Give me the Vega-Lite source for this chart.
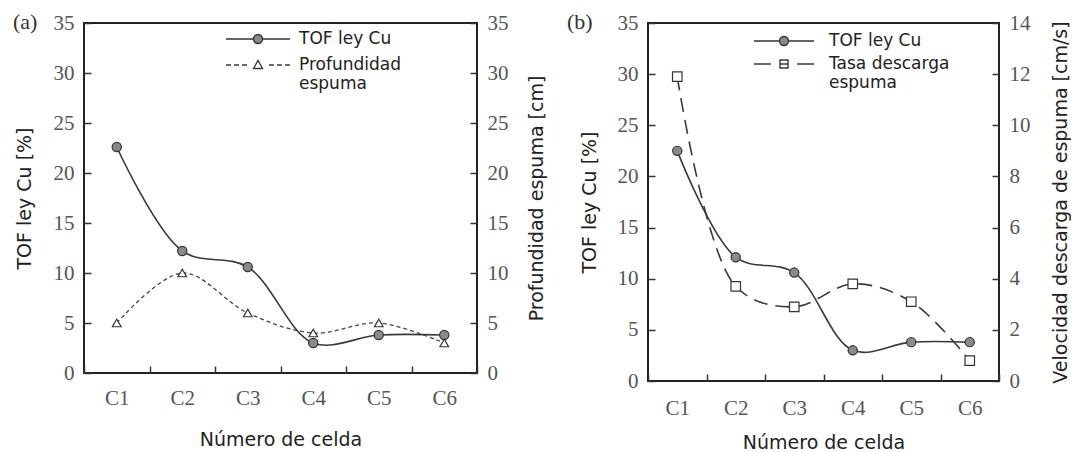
{
  "$schema": "https://vega.github.io/schema/vega-lite/v6.json",
  "background": "white",
  "padding": {"left": 12, "top": 10, "right": 0, "bottom": 0},
  "config": {
    "view": {"stroke": "#222", "strokeWidth": 2},
    "axis": {
      "grid": false, "domain": false, "tickSize": -7, "tickColor": "#333", "tickWidth": 1.5,
      "labelFont": "Liberation Serif", "labelFontSize": 21, "labelColor": "#555",
      "titleFont": "DejaVu Sans", "titleFontSize": 19, "titleFontWeight": "normal", "titleColor": "#222"
    },
    "legend": {
      "orient": "none", "title": null, "padding": 0,
      "labelFont": "DejaVu Sans", "labelFontSize": 17, "labelColor": "#222",
      "symbolSize": 400, "symbolStrokeWidth": 1.4, "symbolOpacity": 1
    },
    "title": {"font": "Liberation Serif", "fontSize": 22, "fontWeight": "normal", "color": "#333", "anchor": "start", "frame": "group"}
  },
  "datasets": {
    "a": [
      {"celda": "C1", "serie": "TOF ley Cu", "valor": 22.6},
      {"celda": "C2", "serie": "TOF ley Cu", "valor": 12.2},
      {"celda": "C3", "serie": "TOF ley Cu", "valor": 10.6},
      {"celda": "C4", "serie": "TOF ley Cu", "valor": 3.0},
      {"celda": "C5", "serie": "TOF ley Cu", "valor": 3.8},
      {"celda": "C6", "serie": "TOF ley Cu", "valor": 3.8},
      {"celda": "C1", "serie": "Profundidad espuma", "valor": 5.0},
      {"celda": "C2", "serie": "Profundidad espuma", "valor": 10.0},
      {"celda": "C3", "serie": "Profundidad espuma", "valor": 6.0},
      {"celda": "C4", "serie": "Profundidad espuma", "valor": 4.0},
      {"celda": "C5", "serie": "Profundidad espuma", "valor": 5.0},
      {"celda": "C6", "serie": "Profundidad espuma", "valor": 3.0}
    ],
    "b": [
      {"celda": "C1", "serie": "TOF ley Cu", "valor": 22.5},
      {"celda": "C2", "serie": "TOF ley Cu", "valor": 12.1},
      {"celda": "C3", "serie": "TOF ley Cu", "valor": 10.6},
      {"celda": "C4", "serie": "TOF ley Cu", "valor": 3.0},
      {"celda": "C5", "serie": "TOF ley Cu", "valor": 3.8},
      {"celda": "C6", "serie": "TOF ley Cu", "valor": 3.8},
      {"celda": "C1", "serie": "Tasa descarga espuma", "valor": 11.9},
      {"celda": "C2", "serie": "Tasa descarga espuma", "valor": 3.7},
      {"celda": "C3", "serie": "Tasa descarga espuma", "valor": 2.9},
      {"celda": "C4", "serie": "Tasa descarga espuma", "valor": 3.8},
      {"celda": "C5", "serie": "Tasa descarga espuma", "valor": 3.1},
      {"celda": "C6", "serie": "Tasa descarga espuma", "valor": 0.8}
    ]
  },
  "hconcat": [
    {
      "width": 393, "height": 350,
      "title": {"text": "(a)", "dx": -71, "dy": 32, "baseline": "middle", "offset": 0},
      "data": {"name": "a"},
      "encoding": {
        "x": {"field": "celda", "type": "nominal", "scale": {"type": "band", "paddingInner": 0, "paddingOuter": 0},
              "axis": {"title": "Número de celda", "labelAngle": 0, "tickBand": "extent", "labelPadding": 21, "titlePadding": 22}}
      },
      "layer": [
        {
          "transform": [{"filter": "datum.serie == 'TOF ley Cu'"}],
          "encoding": {
            "y": {"field": "valor", "type": "quantitative", "scale": {"domain": [0, 35], "nice": false},
                  "axis": {"title": "TOF ley Cu [%]", "values": [0,5,10,15,20,25,30,35], "labelPadding": 17, "titlePadding": 19}}
          },
          "layer": [
            {"mark": {"type": "line", "interpolate": "catmull-rom", "color": "#3a3a3a", "strokeWidth": 1.6}},
            {"mark": {"type": "point", "shape": "circle", "filled": true, "fill": "#8a8a8a", "stroke": "#333", "strokeWidth": 1.2, "size": 85, "opacity": 1}}
          ]
        },
        {
          "transform": [{"filter": "datum.serie == 'Profundidad espuma'"}],
          "encoding": {
            "y": {"field": "valor", "type": "quantitative", "scale": {"domain": [0, 35], "nice": false},
                  "axis": {"orient": "right", "title": "Profundidad espuma [cm]", "titleAngle": 270, "titleBaseline": "top", "values": [0,5,10,15,20,25,30,35], "labelPadding": 17, "titlePadding": 19}}
          },
          "layer": [
            {"mark": {"type": "line", "interpolate": "catmull-rom", "color": "#444", "strokeWidth": 1.3, "strokeDash": [4, 3]}},
            {"mark": {"type": "point", "shape": "triangle-up", "filled": false, "fill": "white", "stroke": "#333", "strokeWidth": 1.2, "size": 75, "opacity": 1}}
          ]
        },
        {
          "mark": {"type": "point", "filled": true, "strokeWidth": 1.4, "opacity": 0},
          "encoding": {
            "y": {"field": "valor", "type": "quantitative", "scale": {"domain": [0, 35], "nice": false}, "axis": null},
            "shape": {"field": "serie", "type": "nominal",
              "scale": {"domain": ["TOF ley Cu", "Profundidad espuma"],
                        "range": ["M-3.2,0H-0.45M0.45,0H3.2M0.45,0A0.45,0.45,0,1,1,-0.45,0A0.45,0.45,0,1,1,0.45,0Z",
                                  "M-3.2,0H-2.7M-2.4,0H-1.9M-1.6,0H-1.1M1.1,0H1.6M1.9,0H2.4M2.7,0H3.2M0,-0.45L0.45,0.35L-0.45,0.35Z"]},
              "legend": {"legendX": 163, "legendY": 5, "labelOffset": 30, "rowPadding": 7,
                         "labelExpr": "datum.label == 'TOF ley Cu' ? datum.label : ['Profundidad', 'espuma']"}},
            "fill": {"field": "serie", "type": "nominal",
              "scale": {"domain": ["TOF ley Cu", "Profundidad espuma"], "range": ["#8a8a8a", "white"]},
              "legend": {"legendX": 163, "legendY": 5, "labelOffset": 30, "rowPadding": 7,
                         "labelExpr": "datum.label == 'TOF ley Cu' ? datum.label : ['Profundidad', 'espuma']"}},
            "stroke": {"field": "serie", "type": "nominal",
              "scale": {"domain": ["TOF ley Cu", "Profundidad espuma"], "range": ["#333333", "#3a3a3a"]},
              "legend": {"legendX": 163, "legendY": 5, "labelOffset": 30, "rowPadding": 7,
                         "labelExpr": "datum.label == 'TOF ley Cu' ? datum.label : ['Profundidad', 'espuma']"}}
          }
        }
      ],
      "resolve": {"scale": {"y": "independent"}}
    },
    {
      "width": 351, "height": 358,
      "title": {"text": "(b)", "dx": -81, "dy": 32, "baseline": "middle", "offset": 0},
      "data": {"name": "b"},
      "encoding": {
        "x": {"field": "celda", "type": "nominal", "scale": {"type": "band", "paddingInner": 0, "paddingOuter": 0},
              "axis": {"title": "Número de celda", "labelAngle": 0, "tickBand": "extent", "labelPadding": 23, "titlePadding": 15}}
      },
      "layer": [
        {
          "transform": [{"filter": "datum.serie == 'TOF ley Cu'"}],
          "encoding": {
            "y": {"field": "valor", "type": "quantitative", "scale": {"domain": [0, 35], "nice": false},
                  "axis": {"title": "TOF ley Cu [%]", "values": [0,5,10,15,20,25,30,35], "labelPadding": 17, "titlePadding": 18}}
          },
          "layer": [
            {"mark": {"type": "line", "interpolate": "catmull-rom", "color": "#3a3a3a", "strokeWidth": 1.6}},
            {"mark": {"type": "point", "shape": "circle", "filled": true, "fill": "#8a8a8a", "stroke": "#333", "strokeWidth": 1.2, "size": 85, "opacity": 1}}
          ]
        },
        {
          "transform": [{"filter": "datum.serie == 'Tasa descarga espuma'"}],
          "encoding": {
            "y": {"field": "valor", "type": "quantitative", "scale": {"domain": [0, 14], "nice": false},
                  "axis": {"orient": "right", "title": "Velocidad descarga de espuma [cm/s]", "titleAngle": 270, "titleBaseline": "top", "values": [0,2,4,6,8,10,12,14], "labelPadding": 17, "titlePadding": 21}}
          },
          "layer": [
            {"mark": {"type": "line", "interpolate": "catmull-rom", "color": "#3a3a3a", "strokeWidth": 1.6, "strokeDash": [14, 8]}},
            {"mark": {"type": "point", "shape": "square", "filled": false, "fill": "white", "stroke": "#333", "strokeWidth": 1.2, "size": 90, "opacity": 1}}
          ]
        },
        {
          "mark": {"type": "point", "filled": true, "strokeWidth": 1.4, "opacity": 0},
          "encoding": {
            "y": {"field": "valor", "type": "quantitative", "scale": {"domain": [0, 35], "nice": false}, "axis": null},
            "shape": {"field": "serie", "type": "nominal",
              "scale": {"domain": ["TOF ley Cu", "Tasa descarga espuma"],
                        "range": ["M-3,0H-0.45M0.45,0H3M0.45,0A0.45,0.45,0,1,1,-0.45,0A0.45,0.45,0,1,1,0.45,0Z",
                                  "M-3,0H-1.3M-0.4,-0.4H0.4V0.4H-0.4ZM-0.4,0H0.4M1.3,0H3"]},
              "legend": {"legendX": 125, "legendY": 7, "labelOffset": 34, "rowPadding": 4,
                         "labelExpr": "datum.label == 'TOF ley Cu' ? datum.label : ['Tasa descarga', 'espuma']"}},
            "fill": {"field": "serie", "type": "nominal",
              "scale": {"domain": ["TOF ley Cu", "Tasa descarga espuma"], "range": ["#8a8a8a", "white"]},
              "legend": {"legendX": 125, "legendY": 7, "labelOffset": 34, "rowPadding": 4,
                         "labelExpr": "datum.label == 'TOF ley Cu' ? datum.label : ['Tasa descarga', 'espuma']"}},
            "stroke": {"field": "serie", "type": "nominal",
              "scale": {"domain": ["TOF ley Cu", "Tasa descarga espuma"], "range": ["#333333", "#3a3a3a"]},
              "legend": {"legendX": 125, "legendY": 7, "labelOffset": 34, "rowPadding": 4,
                         "labelExpr": "datum.label == 'TOF ley Cu' ? datum.label : ['Tasa descarga', 'espuma']"}}
          }
        }
      ],
      "resolve": {"scale": {"y": "independent"}}
    }
  ],
  "spacing": 19,
  "resolve": {"scale": {"shape": "independent", "fill": "independent", "stroke": "independent"}, "legend": {"shape": "independent", "fill": "independent", "stroke": "independent"}}
}
